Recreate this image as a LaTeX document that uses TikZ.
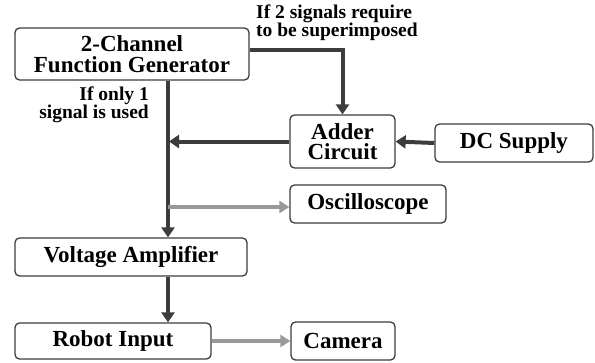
\documentclass[tikz,border=0pt]{standalone}
\usepackage{fontspec}
\setmainfont{Liberation Serif}
\usetikzlibrary{arrows.meta}
\definecolor{linedark}{HTML}{3C3C3C}
\definecolor{linegrey}{HTML}{999999}
\tikzset{
  blk/.style={draw=linedark,line width=1.3pt,rounded corners=4.5pt,fill=white,align=center,
    inner sep=0pt,font=\bfseries\fontsize{23}{20.5}\selectfont},
  lbl/.style={inner sep=0pt,font=\bfseries\fontsize{19.5}{18}\selectfont},
  mainarr/.style={linedark,line width=4pt,-{Triangle[length=10pt,width=13pt]}},
  sidearr/.style={linegrey,line width=3.8pt,-{Triangle[length=10pt,width=12pt]}}
}
\begin{document}
\begin{tikzpicture}[x=1pt,y=-1pt]
\useasboundingbox (0,0) rectangle (595,362);
\node[blk,minimum width=234pt,minimum height=52pt] (fg) at (132,54) {2-Channel\\Function Generator};
\node[blk,minimum width=105pt,minimum height=53pt] (add) at (342.5,141.5) {Adder\\Circuit};
\node[blk,minimum width=158pt,minimum height=38pt] (dc) at (514,143) {DC Supply};
\node[blk,minimum width=156pt,minimum height=38pt] (osc) at (368,204) {Oscilloscope};
\node[blk,minimum width=232pt,minimum height=38pt] (va) at (131,257) {Voltage Amplifier};
\node[blk,minimum width=196pt,minimum height=36pt] (ri) at (113,341) {Robot Input};
\node[blk,minimum width=104pt,minimum height=38pt] (cam) at (343,341) {Camera};
\node[lbl,anchor=north west,align=left] (two) at (256,5) {If 2 signals require\\to be superimposed};
\node[lbl,anchor=north east,align=right] (one) at (149,87) {If only 1\\signal is used};
\coordinate (tr) at (168,0);
\draw[mainarr] ([yshift=4pt]fg.east) -| (add.north);
\draw[mainarr] (fg.south -| tr) -- (va.north -| tr);
\draw[mainarr] (add.west) -- ([xshift=1pt]add.west -| tr);
\draw[mainarr] (dc.west) -- (add.east);
\draw[sidearr] ([yshift=-3pt]osc.west -| tr) -- ([yshift=-3pt]osc.west);
\draw[mainarr] (va.south -| tr) -- (ri.north -| tr);
\draw[sidearr] (ri.east) -- (cam.west);
\end{tikzpicture}
\end{document}
